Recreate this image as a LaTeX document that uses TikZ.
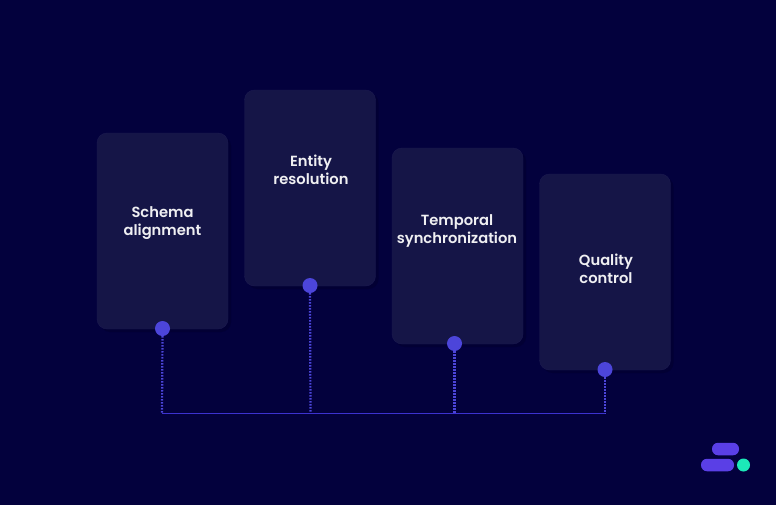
\documentclass[tikz,border=0pt]{standalone}
\usepackage{fontspec}
\setmainfont{Poppins}[BoldFont={Poppins SemiBold}]
\usetikzlibrary{shadows}
\definecolor{bgnavy}{HTML}{03013D}
\definecolor{cardnavy}{HTML}{151547}
\definecolor{cardedge}{HTML}{1B1A50}
\definecolor{dotblue}{HTML}{4C45DA}
\definecolor{lineblue}{HTML}{3C32D0}
\definecolor{logoviolet}{HTML}{5A3FE6}
\definecolor{logoteal}{HTML}{1CE8B8}
\tikzstyle{card} = [rectangle, draw=cardedge, fill=cardnavy, rounded corners=10pt, minimum width=131pt, minimum height=196pt, drop shadow={shadow xshift=3pt, shadow yshift=-3pt, fill=black, opacity=0.14}]
\tikzstyle{label} = [text=white!93!cardnavy, align=center, font=\fontsize{14.7}{18}\selectfont\bfseries]
\tikzstyle{dot} = [circle, fill=dotblue, minimum size=15pt, inner sep=0pt]
\tikzstyle{stem} = [draw=dotblue, line width=2.2pt, dash pattern=on 1.5pt off 1.5pt]
\tikzstyle{bus} = [draw=lineblue, line width=0.9pt]
\tikzstyle{logobar} = [rectangle, fill=logoviolet, rounded corners=6pt, minimum height=12.5pt, inner sep=0pt]
\begin{document}
\begin{tikzpicture}[x=1pt, y=-1pt]
	\useasboundingbox (0,0) rectangle (776,504);
	\fill [bgnavy] (-2,-2) rectangle (778,506);

	\node [card] (schema) at (162.5,231) {};
	\node [card, right of = schema, node distance = 147.5pt, yshift = 43pt] (entity) {};
	\node [card, right of = entity, node distance = 147.5pt, yshift = -58pt] (temporal) {};
	\node [card, right of = temporal, node distance = 147.5pt, yshift = -26pt] (quality) {};

	\node [label] (schema_txt) at (162.5,223) {Schema\\alignment};
	\node [label] (entity_txt) at (311,170) {Entity\\resolution};
	\node [label] (temporal_txt) at (457,231) {Temporal\\synchronization};
	\node [label] (quality_txt) at (606,269) {Quality\\control};

	\node [dot] (dot1) at (162.5,328.5) {};
	\node [dot] (dot2) at (310,285.5) {};
	\node [dot] (dot3) at (454.5,343.5) {};
	\node [dot] (dot4) at (605,369.5) {};

	\coordinate (bus1) at (162,413.3);
	\coordinate (bus2) at (310.5,413.3);
	\coordinate (bus3) at (454.5,413.3);
	\coordinate (bus4) at (605,413.3);

	\path [stem] (dot1.south) to (bus1);
	\path [stem] (dot2.south) to (bus2);
	\path [stem] (dot3.south) to (bus3);
	\path [stem] (dot4.south) to (bus4);
	\path [bus] (bus1) to (bus4);

	% logo
	\node [logobar, minimum width=27pt] (logotop) at (725.5,449) {};
	\node [logobar, minimum width=33pt] (logobot) at (717.5,465) {};
	\node [circle, fill=logoteal, minimum size=13pt, inner sep=0pt] (logodot) at (743.5,465) {};
\end{tikzpicture}
\end{document}
